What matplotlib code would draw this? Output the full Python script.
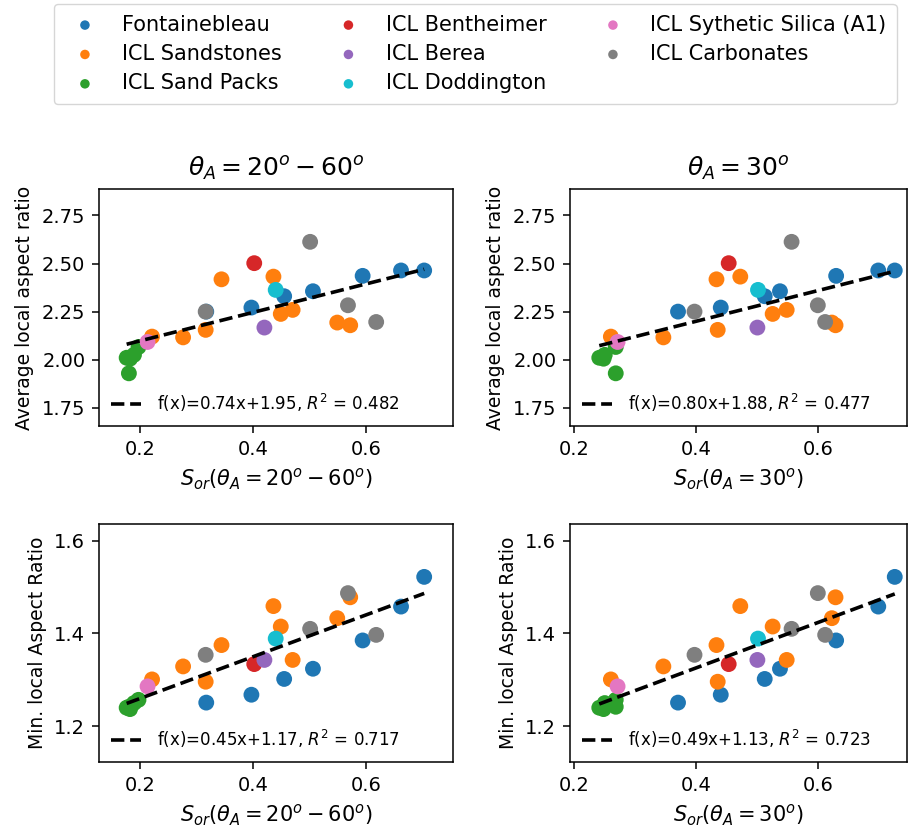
import matplotlib
matplotlib.use("Agg")
import matplotlib.pyplot as plt
import numpy as np

# sample groups (legend order = plotting order)
groups = ["Fontainebleau", "ICL Sandstones", "ICL Sand Packs", "ICL Bentheimer",
          "ICL Berea", "ICL Doddington", "ICL Sythetic Silica (A1)", "ICL Carbonates"]
colors = ["tab:blue", "tab:orange", "tab:green", "tab:red",
          "tab:purple", "tab:cyan", "tab:pink", "tab:gray"]

# S_or for theta_A = 20-60 deg
x_mix = [
    [0.317, 0.397, 0.455, 0.506, 0.594, 0.662, 0.703],
    [0.221, 0.276, 0.316, 0.344, 0.436, 0.449, 0.470, 0.549, 0.572],
    [0.180, 0.176, 0.182, 0.189, 0.197],
    [0.402],
    [0.420],
    [0.440],
    [0.213],
    [0.316, 0.501, 0.568, 0.618],
]
# S_or for theta_A = 30 deg
x_30 = [
    [0.370, 0.440, 0.512, 0.537, 0.629, 0.698, 0.725],
    [0.260, 0.346, 0.435, 0.433, 0.472, 0.525, 0.548, 0.622, 0.628],
    [0.268, 0.241, 0.248, 0.250, 0.268],
    [0.453],
    [0.500],
    [0.501],
    [0.271],
    [0.397, 0.556, 0.599, 0.611],
]
# average local aspect ratio
y_avg = [
    [2.250, 2.271, 2.330, 2.356, 2.436, 2.464, 2.464],
    [2.120, 2.116, 2.155, 2.418, 2.432, 2.238, 2.259, 2.193, 2.179],
    [1.929, 2.010, 2.005, 2.025, 2.066],
    [2.502],
    [2.167],
    [2.363],
    [2.092],
    [2.250, 2.613, 2.283, 2.196],
]
# min. local aspect ratio
y_min = [
    [1.251, 1.268, 1.302, 1.324, 1.385, 1.458, 1.522],
    [1.301, 1.329, 1.296, 1.375, 1.459, 1.415, 1.343, 1.433, 1.478],
    [1.242, 1.240, 1.237, 1.250, 1.257],
    [1.334],
    [1.343],
    [1.389],
    [1.286],
    [1.354, 1.410, 1.487, 1.397],
]

# fit coefficients (slope, intercept, R^2) from the figure
fits = {
    (0, 0): (0.74, 1.95, 0.482),
    (0, 1): (0.80, 1.88, 0.477),
    (1, 0): (0.45, 1.17, 0.717),
    (1, 1): (0.49, 1.13, 0.723),
}

plt.rcParams.update({
    "xtick.labelsize": 14, "ytick.labelsize": 14,
    "xtick.major.size": 4.9, "ytick.major.size": 4.9,
    "xtick.major.width": 1.1, "ytick.major.width": 1.1,
    "xtick.major.pad": 4.9, "ytick.major.pad": 4.9,
    "axes.linewidth": 1.1,
})

fig = plt.figure(figsize=(9.19, 8.27), dpi=100)
positions = {
    (0, 0): [0.1077, 0.4849, 0.3852, 0.2866],
    (0, 1): [0.6202, 0.4849, 0.3667, 0.2866],
    (1, 0): [0.1077, 0.0786, 0.3852, 0.2878],
    (1, 1): [0.6202, 0.0786, 0.3667, 0.2878],
}
xlims = [(0.127, 0.754), (0.193, 0.745)]
ylims = [(1.655, 2.888), (1.123, 1.636)]
xlabels = [r"$S_{or}(\theta_A = 20^o - 60^o)$", r"$S_{or}(\theta_A = 30^o)$"]
titles = [r"$\theta_A = 20^o - 60^o$", r"$\theta_A = 30^o$"]
ylabels = ["Average local aspect ratio", "Min. local Aspect Ratio"]

for (r, c), pos in positions.items():
    ax = fig.add_axes(pos)
    xs = x_mix if c == 0 else x_30
    ys = y_avg if r == 0 else y_min
    for g in range(len(groups)):
        ax.scatter(xs[g], ys[g], s=130, color=colors[g], label=groups[g],
                   edgecolors="none")
    allx = np.concatenate([np.array(v) for v in xs])
    a, b, r2 = fits[(r, c)]
    xx = np.array([allx.min(), allx.max()])
    ax.plot(xx, a * xx + b, "k--", lw=2.6,
            label=f"f(x)={a:.2f}x+{b:.2f}, $R^2$ = {r2:.3f}")
    h, l = ax.get_legend_handles_labels()
    ax.legend([h[-1]], [l[-1]], loc="lower left", fontsize=12, frameon=False,
              handlelength=1.8, handletextpad=1.0, borderaxespad=0.3)
    ax.set_xlim(xlims[c])
    ax.set_ylim(ylims[r])
    ax.set_xticks([0.2, 0.4, 0.6])
    if r == 0:
        ax.set_yticks([1.75, 2.0, 2.25, 2.5, 2.75])
        ax.set_title(titles[c], fontsize=18, pad=9)
        handles = h[:-1]
        labels = l[:-1]
    else:
        ax.set_yticks([1.2, 1.4, 1.6])
    ax.set_xlabel(xlabels[c], fontsize=15, labelpad=5.6)
    ax.set_ylabel(ylabels[r], fontsize=13.5, labelpad=5.6)

fig.legend(handles, labels, loc="upper center", bbox_to_anchor=(0.517, 0.995),
           ncol=3, fontsize=15, scatterpoints=1, markerscale=0.6,
           columnspacing=2.2, handletextpad=0.78, borderpad=0.5,
           labelspacing=0.45, borderaxespad=0.0)

plt.savefig("out.png", dpi=100)
plt.close()
